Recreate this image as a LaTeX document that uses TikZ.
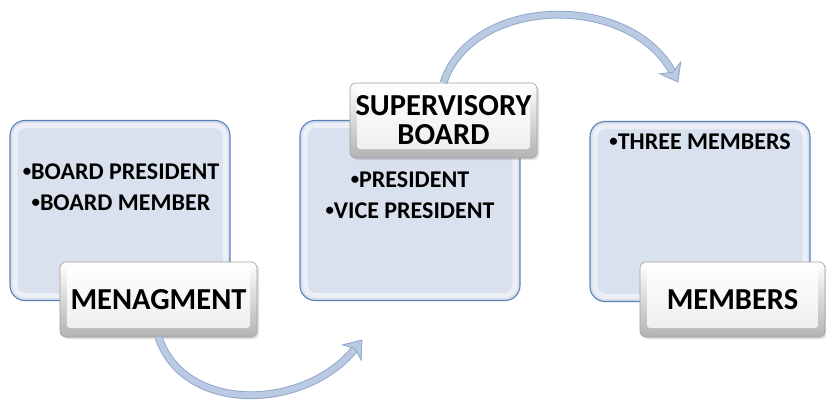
\documentclass[tikz,border=0pt]{standalone}
\usepackage{fontspec}
\setmainfont{Carlito}
\usetikzlibrary{decorations.markings,shadows}

\definecolor{boxfill}{HTML}{D9E1EE}
\definecolor{boxedge}{HTML}{5A82B8}
\definecolor{arrowfill}{HTML}{BACAE2}
\definecolor{arrowedge}{HTML}{8DA5C9}

\newcommand{\dotmark}{\raisebox{0.12em}{\scalebox{0.7}{•}}}

\tikzset{
  panel/.style={rounded corners=15pt, draw=boxedge, line width=1.1pt, fill=boxfill,
    minimum width=220pt, minimum height=180pt, inner sep=0pt,
    path picture={
      \draw[white, opacity=0.5, line width=5pt, rounded corners=11pt]
        ([shift={(5pt,-5pt)}]path picture bounding box.north west) rectangle
        ([shift={(-5pt,5pt)}]path picture bounding box.south east);
    }},
  tagbox/.style={rounded corners=6pt, draw=gray!75, line width=0.6pt,
    top color=white, bottom color=gray!60,
    minimum height=75pt, inner sep=0pt,
    drop shadow={opacity=0.25, shadow xshift=2pt, shadow yshift=-2pt},
    path picture={
      \shade[top color=white, bottom color=gray!14, rounded corners=3pt]
        ([shift={(7pt,-5pt)}]path picture bounding box.north west) rectangle
        ([shift={(-7pt,9pt)}]path picture bounding box.south east);
    },
    font=\fontsize{30.5}{29}\selectfont\bfseries, align=center},
  bullets/.style={font=\fontsize{24}{31}\selectfont\bfseries, align=center, inner sep=0pt},
  shaft/.style={draw=arrowedge, line width=0.9pt, double=arrowfill, double distance=6pt,
    shorten >=12pt},
  arrowtip/.style={decoration={markings, mark=at position -0.05pt with {
      \filldraw[fill=arrowfill, draw=arrowedge, line width=0.8pt]
        (0,0) -- (-16,12) -- (-11,0) -- (-16,-12) -- cycle;}},
    postaction={decorate}}
}

\begin{document}
\begin{tikzpicture}[x=1pt,y=-1pt]
\useasboundingbox (0,0) rectangle (826,404);

% first stage: management
\node[panel] (p1) at (120,210.5) {};
\node[bullets] (b1) at (121,187.5) {\dotmark BOARD PRESIDENT\\\dotmark BOARD MEMBER};
\node[tagbox, minimum width=197pt] (l1) at (158.5,299.5) {MENAGMENT};

% second stage: supervisory board
\node[panel] (p2) at (410,210.5) {};
\node[bullets] (b2) at (410,195.5) {\dotmark PRESIDENT\\\dotmark VICE PRESIDENT};
\node[tagbox, minimum width=187pt] (l2) at (443.5,120.5) {SUPERVISORY\\BOARD};

% third stage: members
\node[panel] (p3) at (700,211.5) {};
\node[bullets] (b3) at (700,142) {\dotmark THREE MEMBERS};
\node[tagbox, minimum width=185pt] (l3) at (732.5,299.5) {MEMBERS};

% curved arrows between the stages
\coordinate (t1) at (362,340);
\coordinate (t2) at (678,82);
\draw[shaft] (l1.south) .. controls (185,415) and (305,410) .. (t1);
\path[arrowtip] (l1.south) .. controls (185,415) and (305,410) .. (t1);
\draw[shaft] (l2.north) .. controls (472,-4) and (628,-8) .. (t2);
\path[arrowtip] (l2.north) .. controls (472,-4) and (628,-8) .. (t2);
\end{tikzpicture}
\end{document}
